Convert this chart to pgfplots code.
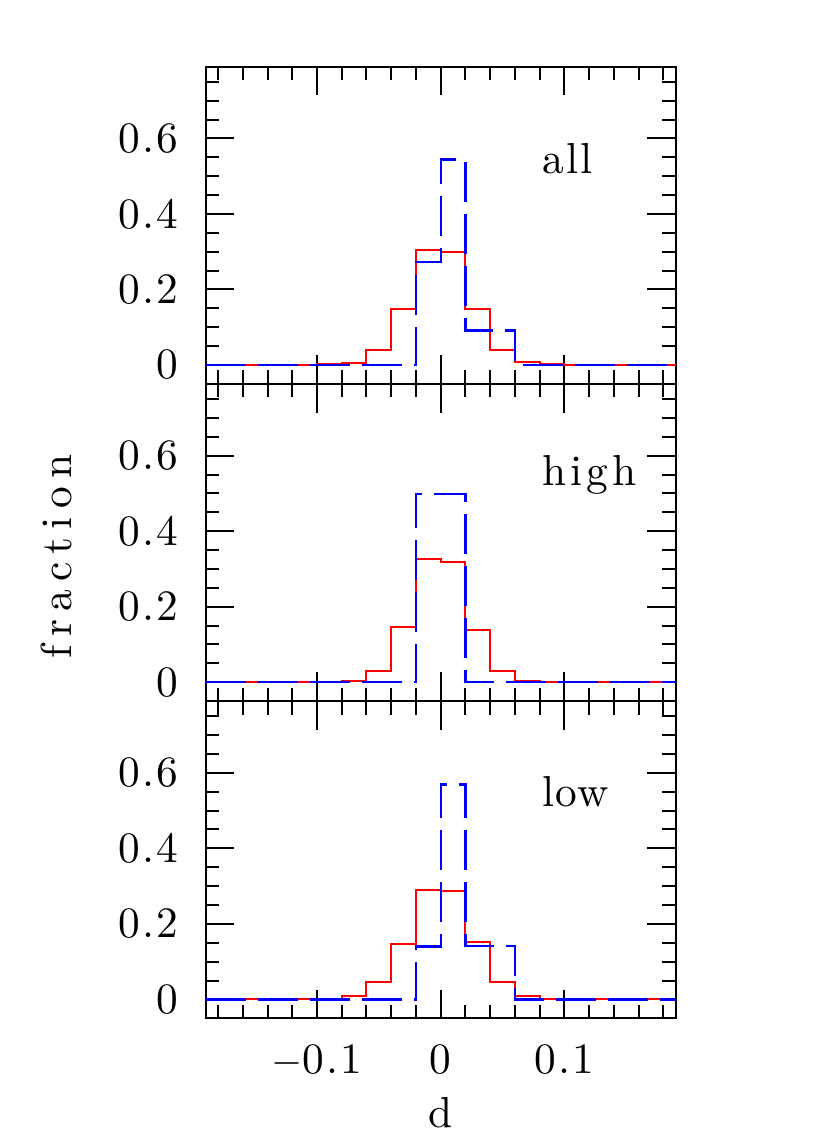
\documentclass[border=0pt]{standalone}
\usepackage{fontspec}
\setmainfont{lmroman10-regular.otf}[LetterSpace=5]
\usepackage{pgfplots}
\pgfplotsset{compat=1.18}

% 1 px of the reference = 0.3pt
\pgfplotsset{panel/.style={
  scale only axis, width=141pt, height=95.16pt,
  anchor=south west,
  xmin=-0.19, xmax=0.19, ymin=-0.05, ymax=0.79,
  xtick={-0.1,0,0.1}, minor xtick={-0.18,-0.16,...,0.18},
  ytick={0,0.2,0.4,0.6}, minor ytick={-0.05,0,...,0.75},
  yticklabels={0,0.2,0.4,0.6},
  tick align=inside, xtick pos=both, ytick pos=both,
  major tick length=8.6pt, minor tick length=4.05pt,
  every tick/.style={black, line width=0.6pt},
  every minor tick/.style={black, line width=0.6pt},
  axis line style={line width=0.6pt},
  tick label style={font=\fontsize{13}{15}\selectfont},
  yticklabel style={anchor=east, inner sep=0pt, xshift=-8.05pt},
  xticklabel style={anchor=base, yshift=-16.7pt},
  label style={font=\fontsize{13}{15}\selectfont},
  clip=false,
}}
\tikzset{
  red hist/.style={red, line width=0.6pt, const plot},
  blue hist/.style={blue, line width=0.7pt, const plot, dash pattern=on 12pt off 3.6pt},
  tag/.style={anchor=base west, font=\fontsize{13}{15}\selectfont, inner sep=0pt},
}

\begin{document}
\begin{tikzpicture}
\useasboundingbox (-61.71pt,-38.61pt) rectangle (187.29pt,305.49pt);

% top: all
\begin{axis}[panel, at={(0,190.32pt)}, xticklabels={}]
\addplot[red hist] coordinates {(-0.19,0) (-0.1,0.002) (-0.08,0.006) (-0.06,0.040)
  (-0.04,0.147) (-0.02,0.304) (0,0.299) (0.02,0.147) (0.04,0.040) (0.06,0.009)
  (0.08,0.002) (0.1,0) (0.19,0)};
\addplot[blue hist] coordinates {(-0.19,0) (-0.02,0.272) (0,0.544) (0.02,0.091)
  (0.04,0.091) (0.06,0) (0.19,0)};
\node[tag] at (axis cs:0.082,0.507) {all};
\end{axis}

% middle: high
\begin{axis}[panel, at={(0,95.16pt)}, xticklabels={}]
\addplot[red hist] coordinates {(-0.19,0) (-0.08,0.003) (-0.06,0.029) (-0.04,0.146)
  (-0.02,0.325) (0,0.318) (0.02,0.139) (0.04,0.031) (0.06,0.004) (0.08,0) (0.19,0)};
\addplot[blue hist] coordinates {(-0.19,0) (-0.02,0.498) (0,0.498) (0.02,0) (0.19,0)};
\node[tag] at (axis cs:0.082,0.520) {\addfontfeatures{LetterSpace=9}high};
\node[rotate=90, anchor=base, inner sep=0pt, font=\fontsize{13}{15}\selectfont]
  at (rel axis cs:-0.285,0.456) {\addfontfeatures{LetterSpace=19}fraction};
\end{axis}

% bottom: low
\begin{axis}[panel, at={(0,0)}, xticklabels={$-$0.1,0,0.1}, xlabel={d},
  xlabel style={at={(axis description cs:0.5,0)}, anchor=base, inner sep=0pt, yshift=-32.7pt}]
\addplot[red hist] coordinates {(-0.19,0) (-0.08,0.009) (-0.06,0.045) (-0.04,0.148)
  (-0.02,0.291) (0,0.286) (0.02,0.151) (0.04,0.045) (0.06,0.009) (0.08,0) (0.19,0)};
\addplot[blue hist] coordinates {(-0.19,0) (-0.02,0.140) (0,0.569) (0.02,0.142)
  (0.04,0.142) (0.06,0) (0.19,0)};
\node[tag] at (axis cs:0.082,0.510) {\addfontfeatures{LetterSpace=2}low};
\end{axis}
\end{tikzpicture}
\end{document}
